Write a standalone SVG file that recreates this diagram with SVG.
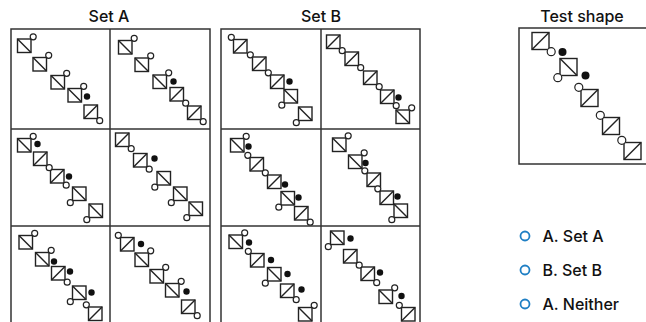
<svg xmlns="http://www.w3.org/2000/svg" xmlns:xlink="http://www.w3.org/1999/xlink" width="646" height="322" viewBox="0 0 646 322">
<style>
.frame{fill:none;stroke:#333;stroke-width:1.5}
.sq{fill:#fff;stroke:#222;stroke-width:1.4}
.dg{stroke:#222;stroke-width:1.4}
.oc{fill:#fff;stroke:#222;stroke-width:1.2}
.fd{fill:#111}
.title{font-family:Inter,"Liberation Sans",sans-serif;font-size:16px;font-weight:500;fill:#111;text-anchor:middle}
.opt{font-family:Inter,"Liberation Sans",sans-serif;font-size:16px;font-weight:500;fill:#111}
.radio{fill:#fff;stroke:#1f7fc4;stroke-width:1.8}
</style>
<defs>
<g id="bs"><rect class="sq" width="13.5" height="13.5"/><line class="dg" x1="0" y1="0" x2="13.5" y2="13.5"/></g>
<g id="fs"><rect class="sq" width="13.5" height="13.5"/><line class="dg" x1="0" y1="13.5" x2="13.5" y2="0"/></g>
<g id="bL"><rect class="sq" width="17" height="17"/><line class="dg" x1="0" y1="0" x2="17" y2="17"/></g>
<g id="fL"><rect class="sq" width="17" height="17"/><line class="dg" x1="0" y1="17" x2="17" y2="0"/></g>
</defs>
<rect width="646" height="322" fill="#fff"/>

<text class="title" x="109" y="21.7">Set A</text>
<text class="title" x="321" y="21.7">Set B</text>
<text class="title" x="582" y="21.7">Test shape</text>

<g id="setA-frame">
<rect class="frame" x="11" y="29" width="199" height="305"/>
<line class="frame" x1="110" y1="29" x2="110" y2="334"/>
<line class="frame" x1="11" y1="129" x2="210" y2="129"/>
<line class="frame" x1="11" y1="226" x2="210" y2="226"/>
</g>
<g id="setB-frame">
<rect class="frame" x="221" y="29" width="199" height="305"/>
<line class="frame" x1="321" y1="29" x2="321" y2="334"/>
<line class="frame" x1="221" y1="129" x2="420" y2="129"/>
<line class="frame" x1="221" y1="226" x2="420" y2="226"/>
</g>
<g id="test-frame">
<rect class="frame" x="519" y="28" width="140" height="136"/>
</g>

<g id="A1">
<use href="#bs" x="17.5" y="39"/><use href="#bs" x="33" y="57.5"/><use href="#bs" x="51" y="75.5"/><use href="#bs" x="68" y="88.5"/><use href="#fs" x="84" y="105"/>
<circle class="oc" cx="33.2" cy="36.8" r="3"/><circle class="oc" cx="48.7" cy="55.3" r="3"/><circle class="oc" cx="66.7" cy="73.3" r="3"/><circle class="oc" cx="83.7" cy="86.3" r="3"/><circle class="oc" cx="99.7" cy="120.7" r="3"/>
<circle class="fd" cx="87" cy="96.5" r="3.2"/>
</g>
<g id="A2">
<use href="#bs" x="118.5" y="40.5"/><use href="#bs" x="135" y="58"/><use href="#bs" x="153" y="75"/><use href="#fs" x="170" y="87.5"/><use href="#fs" x="187.5" y="106"/>
<circle class="oc" cx="134.2" cy="38.3" r="3"/><circle class="oc" cx="150.7" cy="55.8" r="3"/><circle class="oc" cx="168.7" cy="72.8" r="3"/><circle class="oc" cx="185.7" cy="103.2" r="3"/><circle class="oc" cx="203.2" cy="121.7" r="3"/>
<circle class="fd" cx="173.5" cy="81.5" r="3.2"/>
</g>
<g id="A3">
<use href="#bs" x="17.5" y="138.5"/><use href="#fs" x="33.5" y="152"/><use href="#fs" x="50.5" y="169.5"/><use href="#bs" x="72.5" y="187"/><use href="#bs" x="89" y="204"/>
<circle class="oc" cx="33.2" cy="136.3" r="3"/><circle class="oc" cx="49.2" cy="167.7" r="3"/><circle class="oc" cx="66.2" cy="185.2" r="3"/><circle class="oc" cx="70.3" cy="202.7" r="3"/><circle class="oc" cx="86.8" cy="219.7" r="3"/>
<circle class="fd" cx="37.5" cy="144" r="3.2"/><circle class="fd" cx="69" cy="176.5" r="3.2"/>
</g>
<g id="A4">
<use href="#fs" x="115.5" y="133"/><use href="#fs" x="133.5" y="153.5"/><use href="#bs" x="157" y="171.5"/><use href="#bs" x="173.5" y="187"/><use href="#bs" x="189" y="202"/>
<circle class="oc" cx="131.2" cy="148.7" r="3"/><circle class="oc" cx="149.2" cy="169.2" r="3"/><circle class="oc" cx="154.8" cy="187.2" r="3"/><circle class="oc" cx="171.3" cy="202.7" r="3"/><circle class="oc" cx="186.8" cy="217.7" r="3"/>
<circle class="fd" cx="154.5" cy="158.5" r="3.2"/>
</g>
<g id="A5">
<use href="#bs" x="19" y="235.5"/><use href="#bs" x="35.5" y="252.5"/><use href="#fs" x="51.5" y="266.5"/><use href="#bs" x="72.5" y="286"/><use href="#fs" x="88.5" y="307"/>
<circle class="oc" cx="34.7" cy="233.3" r="3"/><circle class="oc" cx="51.2" cy="250.3" r="3"/><circle class="oc" cx="67.2" cy="282.2" r="3"/><circle class="oc" cx="70.3" cy="301.7" r="3"/><circle class="oc" cx="86.3" cy="304.8" r="3"/>
<circle class="fd" cx="54" cy="261.5" r="3.2"/><circle class="fd" cx="70" cy="271.5" r="3.2"/><circle class="fd" cx="91.5" cy="292.5" r="3.2"/>
</g>
<g id="A6">
<use href="#fs" x="120.5" y="237.5"/><use href="#bs" x="135" y="253"/><use href="#bs" x="150" y="269.5"/><use href="#bs" x="165.5" y="283.5"/><use href="#fs" x="181.5" y="300"/>
<circle class="oc" cx="118.3" cy="235.3" r="3"/><circle class="oc" cx="150.7" cy="250.8" r="3"/><circle class="oc" cx="165.7" cy="267.3" r="3"/><circle class="oc" cx="181.2" cy="281.3" r="3"/><circle class="oc" cx="197.2" cy="315.7" r="3"/>
<circle class="fd" cx="141" cy="244" r="3.2"/><circle class="fd" cx="186.5" cy="291.5" r="3.2"/>
</g>

<g id="B1">
<use href="#fs" x="233.5" y="39.5"/><use href="#fs" x="252.5" y="57"/><use href="#fs" x="270.5" y="75"/><use href="#bs" x="284" y="89.5"/><use href="#bs" x="298.5" y="107"/>
<circle class="oc" cx="231.3" cy="37.3" r="3"/><circle class="oc" cx="250.3" cy="54.8" r="3"/><circle class="oc" cx="268.3" cy="72.8" r="3"/><circle class="oc" cx="281.8" cy="105.2" r="3"/><circle class="oc" cx="296.3" cy="122.7" r="3"/>
<circle class="fd" cx="289.5" cy="81.5" r="3.2"/>
</g>
<g id="B2">
<use href="#fs" x="326.5" y="35"/><use href="#fs" x="345" y="52"/><use href="#fs" x="363.5" y="71"/><use href="#fs" x="380.5" y="90"/><use href="#bs" x="396" y="110"/>
<circle class="oc" cx="342.2" cy="50.7" r="3"/><circle class="oc" cx="360.7" cy="67.7" r="3"/><circle class="oc" cx="379.2" cy="86.7" r="3"/><circle class="oc" cx="396.2" cy="105.7" r="3"/><circle class="oc" cx="411.7" cy="107.8" r="3"/>
<circle class="fd" cx="398.5" cy="97.5" r="3.2"/>
</g>
<g id="B3">
<use href="#bs" x="230.5" y="138.5"/><use href="#fs" x="250" y="157.5"/><use href="#fs" x="267.5" y="175"/><use href="#bs" x="281" y="191.5"/><use href="#fs" x="294.5" y="206.5"/>
<circle class="oc" cx="246.2" cy="136.3" r="3"/><circle class="oc" cx="247.8" cy="155.3" r="3"/><circle class="oc" cx="265.3" cy="172.8" r="3"/><circle class="oc" cx="278.8" cy="207.2" r="3"/><circle class="oc" cx="310.2" cy="222.2" r="3"/>
<circle class="fd" cx="248.5" cy="146.5" r="3.2"/><circle class="fd" cx="285" cy="184.5" r="3.2"/><circle class="fd" cx="298.5" cy="197.5" r="3.2"/>
</g>
<g id="B4">
<use href="#bs" x="332.5" y="138"/><use href="#bs" x="348.5" y="155"/><use href="#fs" x="367" y="173"/><use href="#fs" x="380" y="191"/><use href="#bs" x="394" y="204"/>
<circle class="oc" cx="348.2" cy="135.8" r="3"/><circle class="oc" cx="364.2" cy="152.8" r="3"/><circle class="oc" cx="364.8" cy="170.8" r="3"/><circle class="oc" cx="377.8" cy="188.8" r="3"/><circle class="oc" cx="391.8" cy="219.7" r="3"/>
<circle class="fd" cx="365.5" cy="163" r="3.2"/><circle class="fd" cx="397.5" cy="196.5" r="3.2"/>
</g>
<g id="B5">
<use href="#bs" x="229" y="235"/><use href="#fs" x="250.5" y="253.5"/><use href="#bs" x="267.5" y="267.5"/><use href="#fs" x="280.5" y="284"/><use href="#bs" x="298.5" y="307.5"/>
<circle class="oc" cx="244.7" cy="232.8" r="3"/><circle class="oc" cx="248.3" cy="251.3" r="3"/><circle class="oc" cx="265.3" cy="283.2" r="3"/><circle class="oc" cx="296.2" cy="299.7" r="3"/><circle class="oc" cx="314.2" cy="305.3" r="3"/>
<circle class="fd" cx="249" cy="242.5" r="3.2"/><circle class="fd" cx="271" cy="260" r="3.2"/><circle class="fd" cx="287.5" cy="274" r="3.2"/><circle class="fd" cx="301.5" cy="289.5" r="3.2"/>
</g>
<g id="B6">
<use href="#bs" x="330.5" y="231"/><use href="#fs" x="343.5" y="249.5"/><use href="#fs" x="361" y="267"/><use href="#bs" x="379" y="290"/><use href="#fs" x="401.5" y="307.5"/>
<circle class="oc" cx="328.3" cy="246.7" r="3"/><circle class="oc" cx="359.2" cy="265.2" r="3"/><circle class="oc" cx="376.7" cy="282.7" r="3"/><circle class="oc" cx="394.7" cy="287.8" r="3"/><circle class="oc" cx="399.3" cy="305.3" r="3"/>
<circle class="fd" cx="350.5" cy="238.5" r="3.2"/><circle class="fd" cx="380" cy="272.5" r="3.2"/><circle class="fd" cx="401.5" cy="296" r="3.2"/>
</g>

<g id="test">
<use href="#fL" x="532" y="32.5"/><use href="#bL" x="560" y="58.5"/><use href="#fL" x="581" y="89.5"/><use href="#fL" x="602.5" y="117.5"/><use href="#fL" x="624" y="142.5"/>
<circle class="oc" cx="551.2" cy="51.7" r="4"/><circle class="oc" cx="557.8" cy="77.7" r="4"/><circle class="oc" cx="578.8" cy="87.3" r="4"/><circle class="oc" cx="600.3" cy="115.3" r="4"/><circle class="oc" cx="621.8" cy="140.3" r="4"/>
<circle class="fd" cx="562.5" cy="52" r="4"/><circle class="fd" cx="585.5" cy="75.5" r="4"/>
</g>

<g id="options">
<g id="optA"><circle class="radio" cx="525" cy="236" r="4.5"/><text class="opt" x="542.5" y="241.5">A. Set A</text></g>
<g id="optB"><circle class="radio" cx="525" cy="270" r="4.5"/><text class="opt" x="542.5" y="275.5">B. Set B</text></g>
<g id="optC"><circle class="radio" cx="525" cy="304" r="4.5"/><text class="opt" x="542.5" y="309.5">A. Neither</text></g>
</g>
</svg>
